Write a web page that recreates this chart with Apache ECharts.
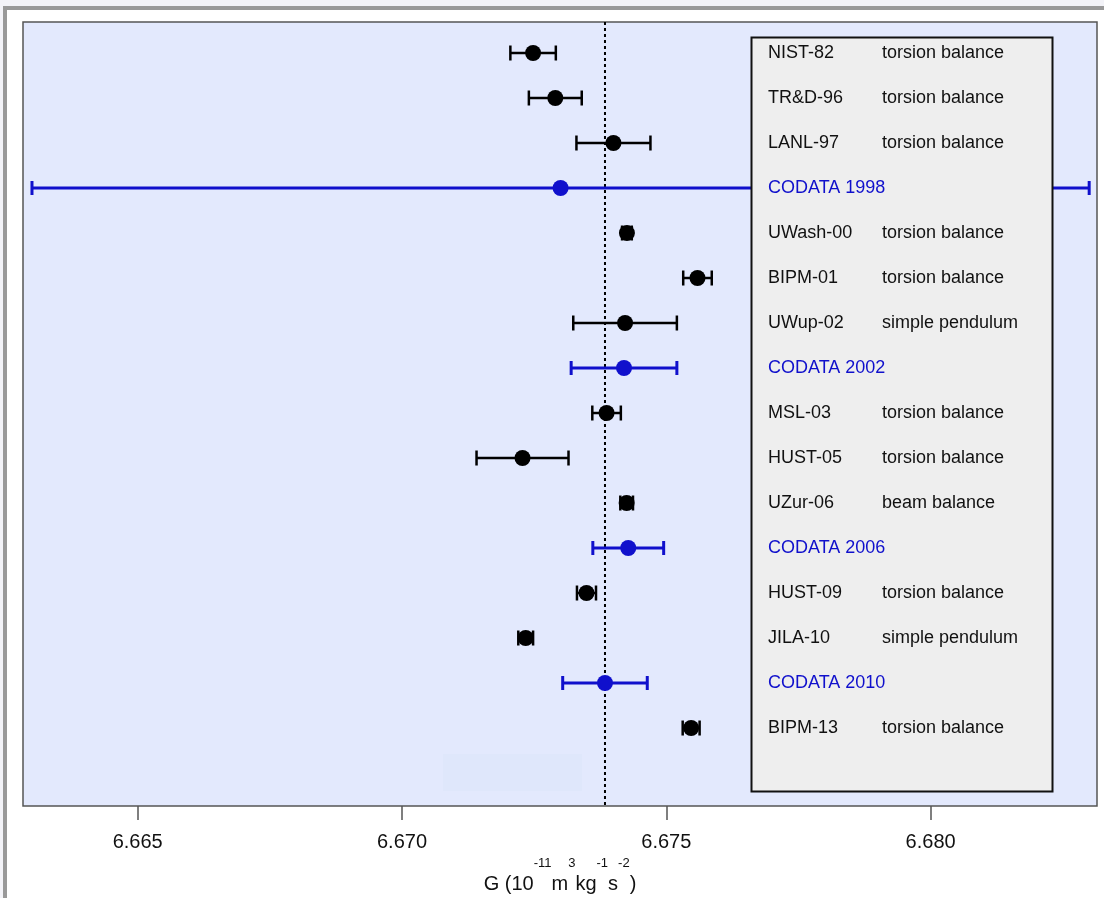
<!DOCTYPE html>
<html>
<head>
<meta charset="utf-8">
<script src="https://cdn.jsdelivr.net/npm/echarts@6/dist/echarts.min.js"></script>
<style>
html,body{margin:0;padding:0;width:1104px;height:898px;overflow:hidden;background:#f3f3f8;}
#frame{position:absolute;left:3px;top:6px;width:1101px;height:892px;box-sizing:border-box;background:#fff;border-left:4px solid #999;border-top:4px solid #999;}
#chart{position:absolute;left:0;top:0;width:1104px;height:898px;}
</style>
</head>
<body>
<div id="frame"></div>
<div id="chart"></div>
<script>
// ---- data ----
const labels = ['NIST-82','TR&D-96','LANL-97','CODATA 1998','UWash-00','BIPM-01','UWup-02','CODATA 2002','MSL-03','HUST-05','UZur-06','CODATA 2006','HUST-09','JILA-10','CODATA 2010','BIPM-13'];
const methods = ['torsion balance','torsion balance','torsion balance','','torsion balance','torsion balance','simple pendulum','','torsion balance','torsion balance','beam balance','','torsion balance','simple pendulum','','torsion balance'];
const isCodata = [0,0,0,1,0,0,0,1,0,0,0,1,0,0,1,0];
const values = [6.67248,6.6729,6.6740,6.673,6.674255,6.67559,6.67422,6.6742,6.67387,6.67228,6.67425,6.67428,6.67349,6.67234,6.67384,6.67547];
const uncert = [0.00043,0.0005,0.0007,0.010,0.000092,0.00027,0.00098,0.0010,0.00027,0.00087,0.00012,0.00067,0.00018,0.00014,0.00080,0.00016];
const tickValues = [6.665,6.670,6.675,6.680];
const refG = 6.67384;
const xMin = 6.66283, xMax = 6.683148;
const yMin = -0.689, yMax = 16.733;

const BLACK = '#000000', BLUE = '#1010cc';
const FONT = '"Liberation Sans", Arial, sans-serif';

const rows = values.map((v,i)=>[v, uncert[i], i, isCodata[i]]);

const chart = echarts.init(document.getElementById('chart'), null, {renderer:'canvas'});
const option = {
  animation:false,
  backgroundColor:'transparent',
  grid:{left:23, top:22, width:1074, height:784, show:true, backgroundColor:'#e3e9fd', borderColor:'#555', borderWidth:1.5, containLabel:false, outerBoundsMode:'none'},
  xAxis:{
    type:'value', min:xMin, max:xMax,
    splitLine:{show:false},
    axisLine:{show:false, onZero:false},
    axisTick:{show:true, customValues:tickValues, length:14, lineStyle:{color:'#555', width:1.5}},
    axisLabel:{show:true, customValues:tickValues, margin:26, fontSize:20, color:'#111', fontFamily:FONT,
      formatter:v=>Number(v).toFixed(3)},
    name:'{n|G (10}{s|-11}{n|m}{s|3}{n|kg}{s|-1}{n|s}{s|-2}{n|)}',
    nameLocation:'middle', nameGap:34,
    nameTextStyle:{fontSize:20, color:'#111', fontFamily:FONT, verticalAlign:'top',
      rich:{
        n:{fontSize:20, fontFamily:FONT, color:'#111', verticalAlign:'bottom', lineHeight:38},
        s:{fontSize:13, fontFamily:FONT, color:'#111', verticalAlign:'top'}
      }}
  },
  yAxis:{type:'value', inverse:true, min:yMin, max:yMax, show:false, axisLine:{onZero:false}},
  graphic:[
    {type:'rect', left:443, top:754, shape:{width:139, height:37}, style:{fill:'#dfe7fb'}, z:1, silent:true},
    {type:'rect', shape:{x:751.5, y:37.5, width:301, height:754}, style:{fill:'#eeeeee', stroke:'#111', lineWidth:2}, z:100, silent:true}
  ],
  series:[
    {
      type:'line', z:1, silent:true, symbol:'none',
      data:[[refG, yMin],[refG, yMax]],
      lineStyle:{color:'#000', type:[3,3], width:2}
    },
    {
      type:'custom', z:2, silent:true,
      data:rows,
      encode:{x:0, y:2},
      renderItem:function(params, api){
        const v = api.value(0), e = api.value(1), r = api.value(2), c = api.value(3);
        const p1 = api.coord([v-e, r]), p2 = api.coord([v+e, r]);
        const col = c ? BLUE : BLACK, lw = c ? 3 : 2.5, h = c ? 7 : 7.5;
        return {type:'group', children:[
          {type:'line', shape:{x1:p1[0], y1:p1[1], x2:p2[0], y2:p2[1]}, style:{stroke:col, lineWidth:lw}},
          {type:'line', shape:{x1:p1[0], y1:p1[1]-h, x2:p1[0], y2:p1[1]+h}, style:{stroke:col, lineWidth:lw}},
          {type:'line', shape:{x1:p2[0], y1:p2[1]-h, x2:p2[0], y2:p2[1]+h}, style:{stroke:col, lineWidth:lw}}
        ]};
      }
    },
    {
      type:'scatter', z:3, silent:true, symbol:'circle', symbolSize:16,
      data:rows.map(d=>({value:[d[0], d[2]], itemStyle:{color: d[3] ? BLUE : BLACK, opacity:1}})),
      itemStyle:{opacity:1}
    },
    {
      type:'custom', z:200, silent:true,
      data:labels.map((l,i)=>[xMin, i]),
      encode:{x:0, y:1},
      renderItem:function(params, api){
        const i = params.dataIndex;
        const y = api.coord([xMin, api.value(1)])[1];
        const col = isCodata[i] ? BLUE : '#111';
        const ch = [{type:'text', x:768, y:y, style:{text:labels[i], fill:col, font:'18px '+FONT, verticalAlign:'middle', align:'left'}}];
        if (methods[i]) ch.push({type:'text', x:882, y:y, style:{text:methods[i], fill:'#111', font:'18px '+FONT, verticalAlign:'middle', align:'left'}});
        return {type:'group', children:ch};
      }
    }
  ]
};
chart.setOption(option);
</script>
</body>
</html>
